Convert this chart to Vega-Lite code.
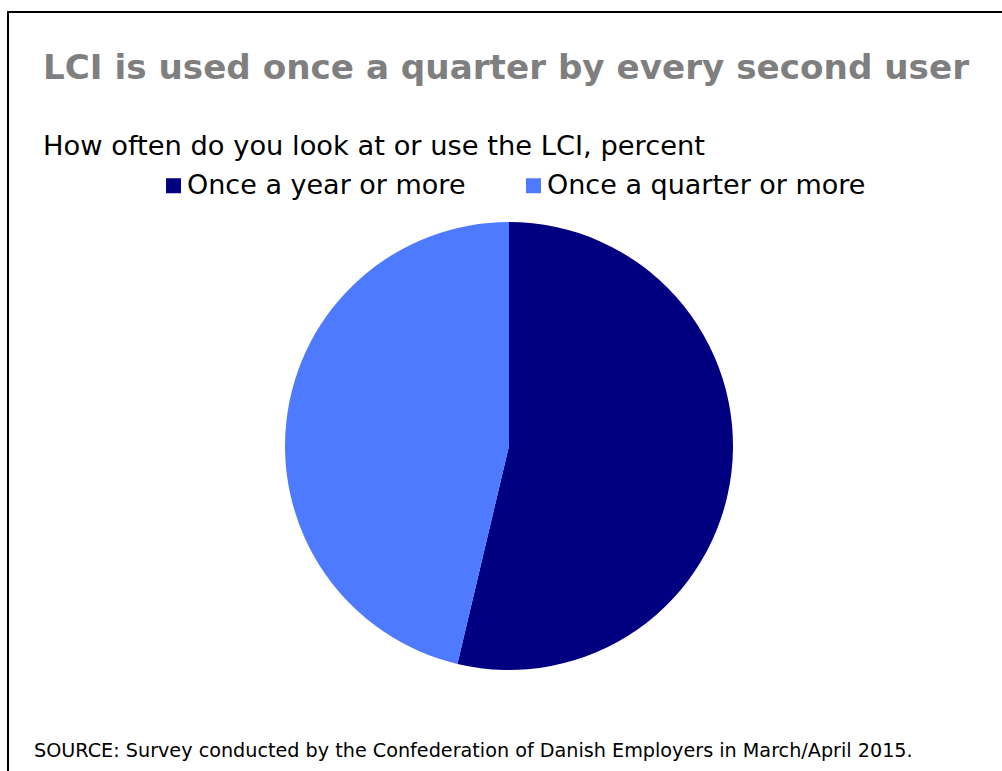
{
  "$schema": "https://vega.github.io/schema/vega-lite/v6.json",
  "autosize": {"type": "none"},
  "width": 1014,
  "height": 800,
  "padding": {"left": 8, "top": 12, "right": -20, "bottom": -41},
  "background": "white",
  "view": {"stroke": "black", "strokeWidth": 2},
  "config": {
    "view": {"stroke": "black", "strokeWidth": 2},
    "style": {"view": {"stroke": "black", "strokeWidth": 2}},
    "font": "DejaVu Sans"
  },
  "title": {
    "text": "LCI is used once a quarter by every second user",
    "subtitle": "How often do you look at or use the LCI, percent",
    "anchor": "start",
    "frame": "group",
    "dx": 35,
    "offset": -148,
    "font": "DejaVu Sans",
    "fontSize": 34.2,
    "fontWeight": "bold",
    "color": "#7f7f7f",
    "subtitleFont": "DejaVu Sans",
    "subtitleFontSize": 27.3,
    "subtitleColor": "black",
    "subtitlePadding": 47
  },
  "layer": [
    {
      "data": {
        "values": [
          {"frequency": "Once a year or more", "percent": 53.7},
          {"frequency": "Once a quarter or more", "percent": 46.3}
        ]
      },
      "mark": {"type": "arc", "outerRadius": 224, "x": 501, "y": 434},
      "encoding": {
        "theta": {"field": "percent", "type": "quantitative", "stack": true},
        "order": {"field": "frequency", "sort": "descending"},
        "color": {
          "field": "frequency",
          "type": "nominal",
          "scale": {
            "domain": ["Once a year or more", "Once a quarter or more"],
            "range": ["#000080", "#4d7aff"]
          },
          "legend": {
            "orient": "none",
            "legendX": 152,
            "legendY": 160,
            "direction": "horizontal",
            "title": null,
            "symbolType": "square",
            "symbolSize": 225,
            "symbolStrokeWidth": 0,
            "labelFontSize": 27,
            "labelFont": "DejaVu Sans",
            "labelColor": "black",
            "labelOffset": 0,
            "labelLimit": 0,
            "columnPadding": 54
          }
        }
      }
    },
    {
      "data": {
        "values": [
          {"note": "SOURCE: Survey conducted by the Confederation of Danish Employers in March/April 2015."}
        ]
      },
      "mark": {
        "type": "text",
        "x": 26,
        "y": 745,
        "align": "left",
        "baseline": "alphabetic",
        "fontSize": 19.2,
        "font": "DejaVu Sans",
        "color": "black"
      },
      "encoding": {"text": {"field": "note"}}
    }
  ]
}
